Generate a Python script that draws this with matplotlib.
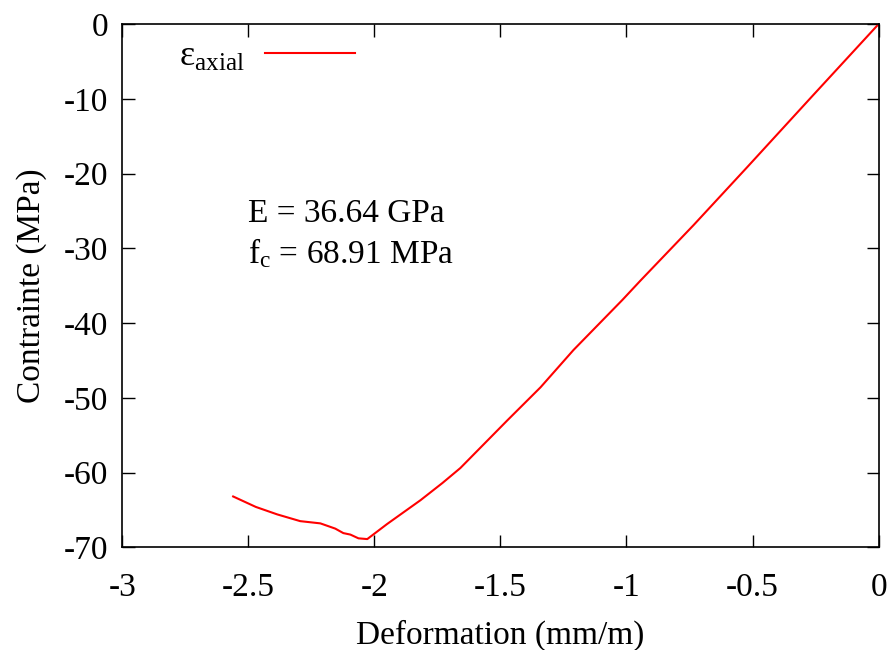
import numpy as np
import matplotlib.pyplot as plt

plt.rcParams["font.family"] = ["Liberation Serif", "DejaVu Serif"]
plt.rcParams["mathtext.fontset"] = "custom"
plt.rcParams["mathtext.rm"] = "Liberation Serif"
plt.rcParams["mathtext.it"] = "Liberation Serif"

# courbe contrainte-deformation
deformation = [-2.56, -2.47, -2.385, -2.294, -2.214, -2.155, -2.123, -2.095,
               -2.063, -2.028, -1.95, -1.817, -1.73, -1.659, -1.472, -1.341,
               -1.21, -1.016, -0.944, -0.734, -0.52, -0.262, 0.0]
contrainte = [-63.2, -64.6, -65.6, -66.5, -66.8, -67.5, -68.1, -68.3,
              -68.8, -68.9, -66.9, -63.7, -61.4, -59.4, -53.0, -48.6,
              -43.6, -36.9, -34.3, -26.9, -19.1, -9.6, 0.0]

fig, ax = plt.subplots(figsize=(8.92, 6.5), dpi=100)
fig.subplots_adjust(left=0.137, right=0.985, top=0.963, bottom=0.158)

ax.plot(deformation, contrainte, color="red", lw=1.5,
        label=r"$\mathrm{\varepsilon_{axial}}$")

ax.set_xlim(-3, 0)
ax.set_ylim(-70, 0)
ax.set_xticks(np.arange(-3, 0.01, 0.5))
ax.set_xticklabels(["-3", "-2.5", "-2", "-1.5", "-1", "-0.5", "0"])
ax.set_yticks(np.arange(-70, 1, 10))
ax.set_yticklabels([str(v) for v in range(-70, 1, 10)])
ax.tick_params(direction="in", top=True, right=True, length=9, width=1,
               labelsize=24)
ax.tick_params(axis="x", pad=18)
ax.tick_params(axis="y", pad=10)
for s in ax.spines.values():
    s.set_linewidth(1.2)

ax.set_xlabel("Deformation (mm/m)", fontsize=24, labelpad=12)
ax.set_ylabel("Contrainte (MPa)", fontsize=24, labelpad=12)

ax.text(-2.5, -26.5, "E = 36.64 GPa", fontsize=24)
ax.text(-2.5, -32.0, r"f$_\mathrm{c}$ = 68.91 MPa", fontsize=24)

leg = ax.legend(loc="upper left", bbox_to_anchor=(0.032, 1.03), frameon=False,
                markerfirst=False, fontsize=26, handlelength=2.5,
                handletextpad=0.55)

fig.savefig("out.png")
